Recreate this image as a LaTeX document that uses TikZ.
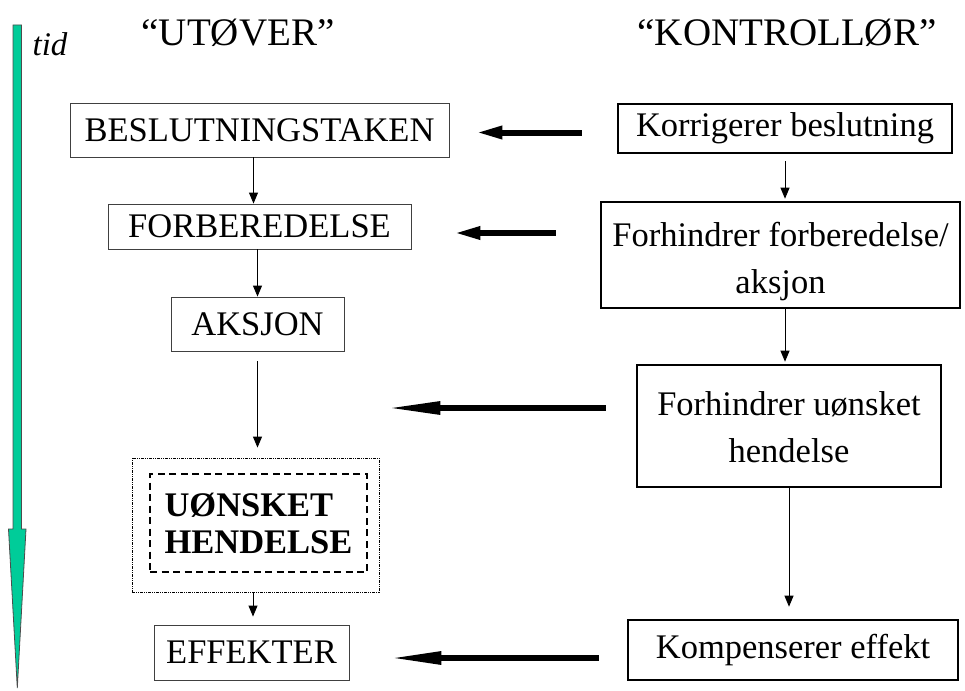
\documentclass[tikz,border=0pt]{standalone}
\usepackage{fontspec}
\setmainfont{Liberation Serif}
\usetikzlibrary{arrows.meta}
\definecolor{tealgreen}{RGB}{0,204,153}
\tikzset{
  lbox/.style={draw=black!75, line width=0.9pt, inner sep=0pt, font=\fontsize{34.5}{38}\selectfont},
  rbox/.style={draw=black, line width=2.6pt, inner sep=0pt, font=\fontsize{34.5}{47}\selectfont},
  thin arrow/.style={draw=black, line width=0.9pt, -{Triangle[length=11pt,width=9pt]}},
  big arrow/.style={draw=black, line width=6pt},
  hdr/.style={font=\fontsize{39}{41}\selectfont, inner sep=0pt}
}
\begin{document}
\begin{tikzpicture}[x=1pt,y=-1pt]
\useasboundingbox (0,0) rectangle (965,690);
% time arrow
\path[fill=tealgreen, draw=black!70, line width=0.8pt]
  (13,25) -- (21.5,25) -- (21.5,529) -- (26,529) -- (17.3,688) -- (8.5,529) -- (13,529) -- cycle;
\node[font=\fontsize{33}{36}\selectfont\itshape, inner sep=0pt] (tid) at (50,44) {tid};
% headers
\node[hdr] (hU) at (238,33) {“UTØVER”};
\node[hdr] (hK) at (787,33) {“KONTROLLØR”};
% left column
\node[lbox, minimum width=379pt, minimum height=54pt] (B1) at (259.5,130) {BESLUTNINGSTAKEN};
\node[lbox, minimum width=303pt, minimum height=45pt] (B2) at (259.5,226.5) {FORBEREDELSE};
\node[lbox, minimum width=173pt, minimum height=54pt] (B3) at (257.5,324) {AKSJON};
\node[draw=black, line width=0.8pt, dash pattern=on 3pt off 1pt on 1pt off 1pt on 1pt off 1pt,
      minimum width=247pt, minimum height=134pt, inner sep=0pt] (O) at (255.5,525) {};
\node[draw=black, line width=2pt, dash pattern=on 7pt off 4.5pt,
      minimum width=217pt, minimum height=98pt, inner sep=0pt] (I) at (258.5,523) {};
\node[font=\fontsize{34.5}{37}\selectfont\bfseries, align=left, inner sep=0pt] (UH) at (I.center) {UØNSKET\\HENDELSE};
\node[lbox, minimum width=195pt, minimum height=55pt] (B5) at (251.5,652.5) {EFFEKTER};
% right column
\node[rbox, minimum width=334pt, minimum height=49pt] (R1) at (785,128.5) {Korrigerer beslutning};
\node[rbox, minimum width=359pt, minimum height=106pt] (R2) at (780.5,255)
  {\raisebox{-6pt}[\height][\depth]{\begin{tabular}{@{}c@{}}Forhindrer forberedelse/\\aksjon\end{tabular}}};
\node[rbox, minimum width=304pt, minimum height=122pt] (R3) at (789,426)
  {\raisebox{-4pt}[\height][\depth]{\begin{tabular}{@{}c@{}}Forhindrer uønsket\hspace{8pt}\\hendelse\end{tabular}}};
\node[rbox, minimum width=330pt, minimum height=60pt] (R4) at (793,650) {Kompenserer effekt\hspace{8pt}};
% start points of the thick arrows
\coordinate (s1) at ([xshift=-35pt,yshift=-4pt]R1.west);
\coordinate (s2) at ([xshift=-44pt,yshift=22pt]R2.west);
\coordinate (s3) at ([xshift=-30pt,yshift=18pt]R3.west);
\coordinate (s4) at ([xshift=-28pt,yshift=-8pt]R4.west);
% thin arrows left
\draw[thin arrow] ([xshift=-6pt]B1.south) -- ([xshift=-6pt]B1.south |- B2.north);
\draw[thin arrow] (B3.north |- B2.south) -- (B3.north);
\draw[thin arrow, shorten <=10pt, shorten >=10pt] (B3.south) -- (B3.south |- O.north);
\draw[thin arrow, shorten >=8pt] ([xshift=1.5pt]B5.north |- O.south) -- ([xshift=1.5pt]B5.north);
% thin arrows right
\draw[thin arrow, shorten <=7pt, shorten >=2pt] (R1.south) -- (R1.south |- R2.north);
\draw[thin arrow, shorten >=2pt] (R2.south -| R1.south) -- (R1.south |- R3.north);
\draw[thin arrow, shorten >=12pt] (R3.south) -- (R3.south |- R4.north);
% thick arrows
\draw[big arrow, -{Triangle[length=27pt,width=12pt]}] (s1) -- ([xshift=26pt]B1.east |- s1);
\draw[big arrow, -{Triangle[length=27pt,width=12pt]}] (s2) -- ([xshift=42pt]B2.east |- s2);
\draw[big arrow, -{Triangle[length=55pt,width=12pt]}] (s3) -- ([xshift=6pt]O.east |- s3);
\draw[big arrow, -{Triangle[length=53pt,width=12pt]}] (s4) -- ([xshift=39pt]B5.east |- s4);
\end{tikzpicture}
\end{document}
